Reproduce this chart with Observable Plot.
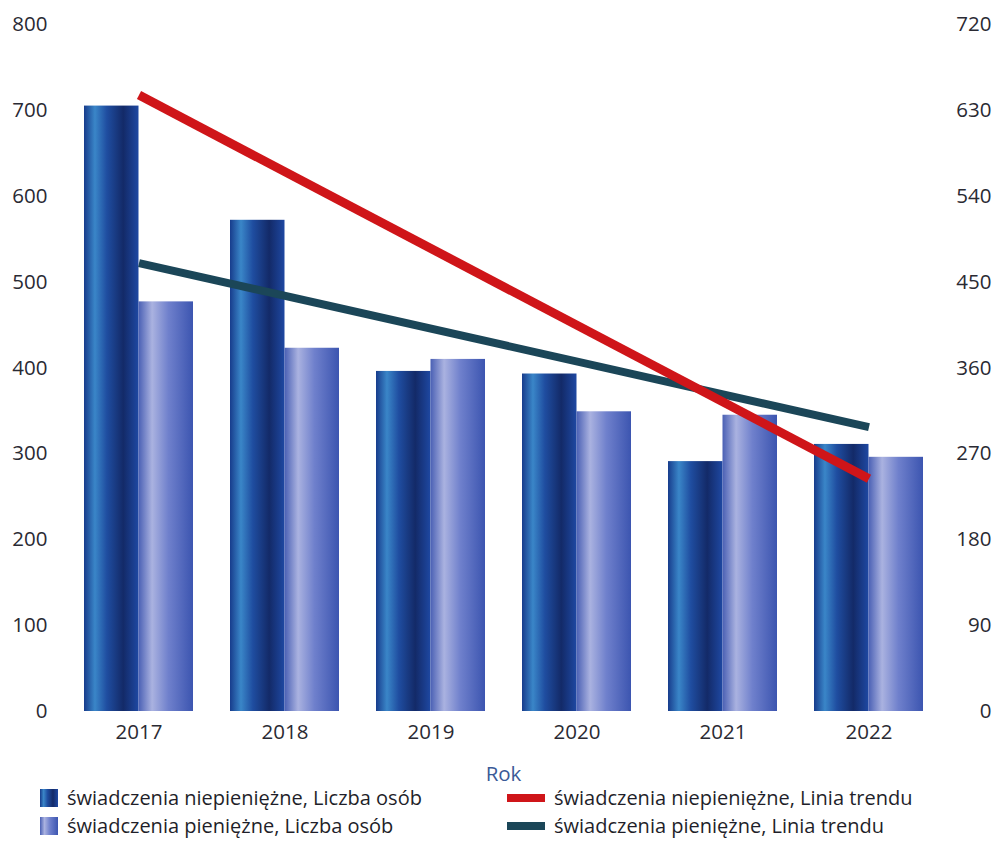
<!DOCTYPE html>
<html>
<head>
<meta charset="utf-8">
<script src="https://cdn.jsdelivr.net/npm/d3@7"></script>
<script src="https://cdn.jsdelivr.net/npm/@observablehq/plot@0.6"></script>
<style>
  body { margin: 0; background: #fff; font-family: "Open Sans", sans-serif; }
  #chart svg { display: block; }
  .legend { position: relative; height: 69px; font-size: 20px; line-height: 24px; color: #1f1f2a; margin-top: -3px; }
  .item { position: absolute; display: flex; align-items: center; height: 24px; white-space: nowrap; }
  .item .txt { display: block; height: 24px; line-height: 24px; }
  .sw { width: 18px; height: 18px; margin-right: 9px; flex: none; }
  .ln { width: 38px; height: 8px; margin-right: 9px; flex: none; }
</style>
</head>
<body>
<div id="chart"></div>
<div class="legend" id="legend"></div>
<script>
const years = [2017, 2018, 2019, 2020, 2021, 2022];
const niepieniezne = [705, 572, 396, 393, 291, 311];
const pieniezne = [477, 423, 410, 349, 345, 296];
// trend lines, in right-axis units (0–720)
const trendYears = [2017, 2022];
const trendNiepieniezne = [646, 244];
const trendPieniezne = [470, 298];
const leftTicks = [0, 100, 200, 300, 400, 500, 600, 700, 800];
const rightTicks = [0, 90, 180, 270, 360, 450, 540, 630, 720];
const ratio = 720 / 800;

const seriesLabels = [
  "świadczenia niepieniężne, Liczba osób",
  "świadczenia pieniężne, Liczba osób",
  "świadczenia niepieniężne, Linia trendu",
  "świadczenia pieniężne, Linia trendu"
];

const darkBars = years.map((y, i) => ({year: String(y), value: niepieniezne[i]}));
const lightBars = years.map((y, i) => ({year: String(y), value: pieniezne[i]}));
const redTrend = trendYears.map((y, i) => ({year: String(y), value: trendNiepieniezne[i]}));
const navyTrend = trendYears.map((y, i) => ({year: String(y), value: trendPieniezne[i]}));

const half = 54.5;

const svg = Plot.plot({
  width: 997,
  height: 790,
  marginTop: 24,
  marginBottom: 79,
  marginLeft: 64,
  marginRight: 55,
  style: {fontFamily: "Open Sans, sans-serif", fontSize: "20.5px", color: "#2a2a33", background: "#fff"},
  x: {domain: years.map(String), paddingInner: 0.255, paddingOuter: 0.1275, label: null},
  y: {domain: [0, 800], label: null},
  marks: [
    Plot.barY(darkBars, {x: "year", y: "value", fill: "url(#gDark)", insetRight: half}),
    Plot.barY(lightBars, {x: "year", y: "value", fill: "url(#gLight)", insetLeft: half}),
    Plot.lineY(navyTrend, {x: "year", y: d => d.value / ratio, stroke: "#1b4658", strokeWidth: 8, strokeLinecap: "butt"}),
    Plot.lineY(redTrend, {x: "year", y: d => d.value / ratio, stroke: "#cf1519", strokeWidth: 9, strokeLinecap: "butt"}),
    Plot.axisY(leftTicks, {anchor: "left", tickSize: 0, tickPadding: 17, label: null, fill: "#2a2a33"}),
    Plot.axisY(rightTicks.map(v => v / ratio), {anchor: "right", tickSize: 0, tickPadding: 49, textAnchor: "end",
      tickFormat: d => String(Math.round(d * ratio)), label: null, fill: "#2a2a33"}),
    Plot.axisX({tickSize: 0, tickPadding: 13, label: null, fill: "#2a2a33"}),
    Plot.text(["Rok"], {frameAnchor: "bottom", dy: 69, fill: "#3b5a98", fontSize: 20.5})
  ]
});

d3.select(svg).insert("defs", ":first-child").html(`
  <linearGradient id="gDark" x1="0" x2="1" y1="0" y2="0">
    <stop offset="0" stop-color="#173c8c"/>
    <stop offset="0.2" stop-color="#3a86c8"/>
    <stop offset="0.42" stop-color="#1f4da0"/>
    <stop offset="0.72" stop-color="#132a68"/>
    <stop offset="1" stop-color="#1e48a2"/>
  </linearGradient>
  <linearGradient id="gLight" x1="0" x2="1" y1="0" y2="0">
    <stop offset="0" stop-color="#4a60b4"/>
    <stop offset="0.25" stop-color="#aab2e0"/>
    <stop offset="0.55" stop-color="#6f80cc"/>
    <stop offset="1" stop-color="#3c55b0"/>
  </linearGradient>
`);

document.getElementById("chart").appendChild(svg);

const legend = document.getElementById("legend");
const items = [
  {label: seriesLabels[0], left: 40, top: -1, cls: "sw", bg: "linear-gradient(90deg,#173c8c,#3a86c8 20%,#1f4da0 42%,#132a68 72%,#1e48a2)"},
  {label: seriesLabels[1], left: 40, top: 27, cls: "sw", bg: "linear-gradient(90deg,#4a60b4,#aab2e0 25%,#6f80cc 55%,#3c55b0)"},
  {label: seriesLabels[2], left: 507, top: -1, cls: "ln", bg: "#cf1519"},
  {label: seriesLabels[3], left: 507, top: 27, cls: "ln", bg: "#1b4658"}
];
for (const it of items) {
  const div = document.createElement("div");
  div.className = "item";
  div.style.left = it.left + "px";
  div.style.top = it.top + "px";
  const s = document.createElement("span");
  s.className = it.cls;
  s.style.background = it.bg;
  const t = document.createElement("div");
  t.className = "txt";
  t.textContent = it.label;
  div.appendChild(s);
  div.appendChild(t);
  legend.appendChild(div);
}
</script>
</body>
</html>
